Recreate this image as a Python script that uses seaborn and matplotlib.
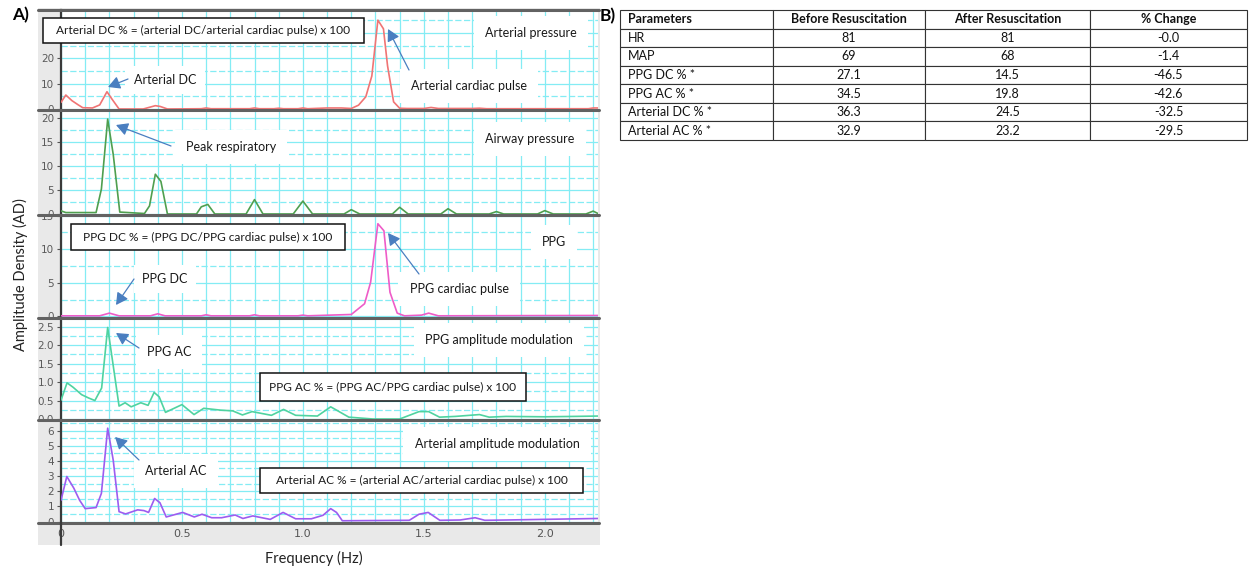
import numpy as np
import pandas as pd
import matplotlib
matplotlib.use("Agg")
import matplotlib.pyplot as plt
import seaborn as sns
from matplotlib.patches import Rectangle, FancyArrowPatch
from matplotlib.lines import Line2D
from matplotlib.transforms import Bbox, TransformedBbox

# ---------------- data ----------------
art_f = [0, 0.02, 0.045, 0.07, 0.09, 0.13, 0.16, 0.19, 0.21, 0.24, 0.34, 0.39, 0.41, 0.44,
         0.58, 0.6, 0.62, 0.78, 0.8, 0.82, 0.88, 0.9, 0.92, 0.98, 1.0, 1.02, 1.1, 1.16,
         1.2, 1.23, 1.26, 1.285, 1.31, 1.333, 1.35, 1.375, 1.40, 1.43, 1.5, 1.53, 1.56,
         1.7, 1.73, 1.76, 2.18, 2.2, 2.22]
art_v = [2.6, 5.5, 3.3, 1.7, 0.5, 0.4, 1.6, 6.8, 4.0, 0.0, 0.0, 1.3, 1.0, 0.0,
         0.1, 0.4, 0.1, 0.1, 0.4, 0.1, 0.1, 0.3, 0.1, 0.1, 0.4, 0.1, 0.4, 0.4,
         0.2, 1.5, 4.8, 13.0, 35.0, 31.6, 17.0, 2.8, 0.3, 0.2, 0.2, 0.6, 0.2,
         0.2, 0.3, 0.1, 0.1, 0.4, 0.4]

air_f = [0, 0.02, 0.145, 0.167, 0.193, 0.216, 0.243, 0.345, 0.366, 0.39, 0.413, 0.44,
         0.56, 0.58, 0.607, 0.636, 0.765, 0.80, 0.835, 0.96, 1.0, 1.04, 1.17, 1.2, 1.235,
         1.37, 1.40, 1.435, 1.57, 1.60, 1.635, 1.77, 1.80, 1.83, 1.97, 2.0, 2.035,
         2.17, 2.2, 2.22]
air_v = [0.65, 0.3, 0.3, 5.2, 19.8, 12.4, 0.4, 0.1, 1.7, 8.3, 6.8, 0.0,
         0.0, 1.5, 2.0, 0.0, 0.0, 3.0, 0.0, 0.0, 2.7, 0.0, 0.0, 0.9, 0.0,
         0.0, 1.4, 0.0, 0.0, 1.1, 0.0, 0.0, 0.5, 0.0, 0.0, 0.7, 0.0,
         0.0, 0.6, 0.1]

ppg_f = [0, 0.16, 0.2, 0.24, 0.37, 0.4, 0.43, 0.58, 0.6, 0.62, 0.78, 0.8, 0.82,
         0.98, 1.0, 1.02, 1.2, 1.255, 1.28, 1.31, 1.335, 1.36, 1.39, 1.42, 1.49,
         1.52, 1.56, 2.22]
ppg_v = [0.1, 0.1, 0.5, 0.1, 0.1, 0.4, 0.1, 0.1, 0.25, 0.1, 0.1, 0.25, 0.1,
         0.1, 0.2, 0.1, 0.3, 1.9, 5.1, 13.8, 12.75, 3.6, 0.5, 0.1, 0.2,
         0.5, 0.1, 0.15]

ppgam_f = [0, 0.025, 0.05, 0.085, 0.114, 0.14, 0.168, 0.193, 0.216, 0.24, 0.265, 0.29,
           0.33, 0.36, 0.385, 0.406, 0.432, 0.5, 0.55, 0.59, 0.66, 0.71, 0.75, 0.79,
           0.87, 0.92, 0.97, 1.06, 1.115, 1.19, 1.29, 1.40, 1.48, 1.52, 1.565, 1.63,
           1.69, 1.73, 1.77, 1.84, 2.0, 2.12, 2.22]
ppgam_v = [0.51, 0.98, 0.86, 0.66, 0.57, 0.5, 0.84, 2.48, 1.44, 0.35, 0.44, 0.33,
           0.44, 0.37, 0.72, 0.6, 0.18, 0.39, 0.12, 0.29, 0.24, 0.22, 0.11, 0.2,
           0.1, 0.26, 0.1, 0.08, 0.33, 0.05, 0.0, 0.0, 0.2, 0.2, 0.05, 0.07,
           0.1, 0.12, 0.05, 0.07, 0.06, 0.07, 0.08]

artam_f = [0, 0.024, 0.053, 0.077, 0.10, 0.145, 0.167, 0.193, 0.216, 0.24, 0.267, 0.317,
           0.343, 0.362, 0.387, 0.409, 0.435, 0.503, 0.551, 0.583, 0.623, 0.664, 0.72,
           0.752, 0.793, 0.865, 0.918, 0.97, 1.035, 1.083, 1.115, 1.139, 1.163, 1.44,
           1.48, 1.518, 1.566, 1.65, 1.712, 1.752, 1.84, 2.22]
artam_v = [1.4, 2.97, 2.2, 1.4, 0.85, 0.92, 1.86, 6.16, 4.04, 0.65, 0.5, 0.77,
           0.72, 0.6, 1.52, 1.24, 0.3, 0.6, 0.3, 0.48, 0.25, 0.25, 0.43,
           0.2, 0.37, 0.14, 0.6, 0.18, 0.18, 0.41, 0.85, 0.6, 0.05, 0.08,
           0.48, 0.6, 0.08, 0.1, 0.25, 0.08, 0.1, 0.2]

panel_names = ["Arterial pressure", "Airway pressure", "PPG",
               "PPG amplitude modulation", "Arterial amplitude modulation"]
panel_yticks = [[0, 10, 20, 30], [0, 5, 10, 15, 20], [0, 5, 10, 15],
                [0.0, 0.5, 1.0, 1.5, 2.0, 2.5], [0, 1, 2, 3, 4, 5, 6]]
# the "30" of the top panel is hidden under the formula box in the reference
panel_yticklabels = [["0", "10", "20", ""], ["0", "5", "10", "15", "20"],
                     ["0", "5", "10", "15"],
                     ["0.0", "0.5", "1.0", "1.5", "2.0", "2.5"],
                     ["0", "1", "2", "3", "4", "5", "6"]]
x_ticks = [0, 0.5, 1.0, 1.5, 2.0]
x_ticklabels = ["0", "0.5", "1.0", "1.5", "2.0"]

tbl_cols = ["Parameters", "Before Resuscitation", "After Resuscitation", "% Change"]
tbl_params = ["HR", "MAP", "PPG DC % *", "PPG AC % *", "Arterial DC % *", "Arterial AC % *"]
tbl_before = ["81", "69", "27.1", "34.5", "36.3", "32.9"]
tbl_after = ["81", "68", "14.5", "19.8", "24.5", "23.2"]
tbl_change = ["-0.0", "-1.4", "-46.5", "-42.6", "-32.5", "-29.5"]

# ---------------- layout / style ----------------
W, H = 1249, 571
sns.set_theme(style="white")
plt.rcParams['font.family'] = ['Lato', 'DejaVu Sans']

fig = plt.figure(figsize=(W / 100, H / 100), dpi=100)
fig.patch.set_facecolor("white")


def fx(x):
    return x / W


def fy(y):
    return 1 - y / H


# gray chart frame
fig.patches.append(Rectangle((fx(38), fy(545)), fx(600) - fx(38), fy(8) - fy(545),
                             transform=fig.transFigure, fc="#e9e9e9", ec="none", zorder=-10))

LEFT, RIGHT = 61, 598
bounds = [(10, 110), (110, 215), (215, 317.5), (317.5, 420), (420, 522.5)]
ylims = [(-0.4, 39), (-0.21, 21.7), (-0.15, 15.1), (-0.027, 2.75), (-0.065, 6.7)]
series = [(art_f, art_v, "#f07474"), (air_f, air_v, "#4f9f4f"), (ppg_f, ppg_v, "#ee5cc8"),
          (ppgam_f, ppgam_v, "#4fd3a0"), (artam_f, artam_v, "#9d5cf0")]
GRID = "#84ecf4"

axes = []
for i, ((top, bot), (f, v, col)) in enumerate(zip(bounds, series)):
    ax = fig.add_axes([fx(LEFT), fy(bot), fx(RIGHT) - fx(LEFT), (bot - top) / H])
    ax.set_facecolor("white")
    df = pd.DataFrame({"Frequency (Hz)": f, "AD": v})
    sns.lineplot(data=df, x="Frequency (Hz)", y="AD", ax=ax, color=col, lw=1.2,
                 errorbar=None, sort=False, zorder=3)
    ax.set_xlim(0, 2.22)
    ax.set_ylim(*ylims[i])
    ax.set_xlabel("")
    ax.set_ylabel("")
    ax.set_xticks(x_ticks)
    ax.set_xticks(np.arange(0.1, 2.22, 0.1), minor=True)
    yt = panel_yticks[i]
    ax.set_yticks(yt)
    ax.set_yticklabels(panel_yticklabels[i])
    step = yt[1] - yt[0]
    ax.set_yticks(np.arange(step / 2, ylims[i][1], step), minor=True)
    ax.grid(True, which="both", axis="x", color=GRID, lw=0.9, zorder=0)
    ax.grid(True, which="major", axis="y", color=GRID, lw=0.9, zorder=0)
    ax.grid(True, which="minor", axis="y", color=GRID, lw=0.9, ls=(0, (5, 2)), zorder=0)
    for s in ["top", "bottom", "right"]:
        ax.spines[s].set_visible(False)
    ax.spines["left"].set_color("#3a3a3a")
    ax.spines["left"].set_linewidth(1.6)
    ax.tick_params(axis="y", which="major", direction="out", length=3, width=0.8,
                   color="#555555", labelsize=7.5, labelcolor="#5a5a5a", pad=2, left=True)
    ax.tick_params(axis="y", which="minor", length=0)
    ax.tick_params(axis="x", which="both", length=0)
    for lab in ax.get_yticklabels():
        lab.set_fontfamily("DejaVu Sans")
        lab.set_clip_box(TransformedBbox(Bbox([[-0.12, 0.0], [0.0, 1.0]]), ax.transAxes))
        lab.set_clip_on(True)
    if i < 4:
        ax.set_xticklabels([])
    else:
        ax.set_xticklabels(x_ticklabels)
        ax.tick_params(axis="x", labelsize=8, labelcolor="#555555", pad=5)
        for lab in ax.get_xticklabels():
            lab.set_fontfamily("DejaVu Sans")
    axes.append(ax)

# panel separators and axis extension
for y in [10, 110, 215, 317.5, 420, 522.5]:
    fig.add_artist(Line2D([fx(38), fx(RIGHT + 1)], [fy(y), fy(y)], transform=fig.transFigure,
                          color="#626262", lw=2.2, zorder=4))
fig.add_artist(Line2D([fx(LEFT), fx(LEFT)], [fy(522), fy(545)], transform=fig.transFigure,
                      color="#3a3a3a", lw=1.6, zorder=4))

# ---------------- annotations ----------------
TXT = dict(fontsize=9, color="#1a1a1a", ha="center", va="center", zorder=6)


def label(x, y, s, pad=4):
    fig.text(fx(x), fy(y), s, bbox=dict(fc="white", ec="none", boxstyle=f"square,pad={pad/9:.2f}"),
             **TXT)


def box(x0, y0, x1, y1, s):
    fig.patches.append(Rectangle((fx(x0), fy(y1)), fx(x1) - fx(x0), fy(y0) - fy(y1),
                                 transform=fig.transFigure, fc="white", ec="#111111",
                                 lw=1.1, zorder=6))
    fig.text(fx((x0 + x1) / 2), fy((y0 + y1) / 2), s,
             **{**TXT, "fontsize": 8.6})


def arrow(x0, y0, x1, y1):
    fig.add_artist(FancyArrowPatch((fx(x0), fy(y0)), (fx(x1), fy(y1)), transform=fig.transFigure,
                                   arrowstyle="-|>,head_length=0.55,head_width=0.3",
                                   mutation_scale=13, color="#4a7ec0", lw=0.9, zorder=7,
                                   shrinkA=0, shrinkB=0))


label(531, 33, "Arterial pressure", pad=8)
label(165, 80, "Arterial DC", pad=6)
label(469, 86, "Arterial cardiac pulse", pad=8)
label(231, 147, "Peak respiratory", pad=8)
label(530, 139, "Airway pressure", pad=8)
label(554, 242, "PPG", pad=8)
label(165, 279, "PPG DC", pad=6)
label(459, 289, "PPG cardiac pulse", pad=8)
label(169, 352, "PPG AC", pad=8)
label(499, 340, "PPG amplitude modulation", pad=8)
label(497, 444, "Arterial amplitude modulation", pad=8)
label(176, 471, "Arterial AC", pad=8)

box(43, 18, 364, 43, "Arterial DC % = (arterial DC/arterial cardiac pulse) x 100")
box(71, 224, 345, 250, "PPG DC % = (PPG DC/PPG cardiac pulse) x 100")
box(260, 373, 526, 401, "PPG AC % = (PPG AC/PPG cardiac pulse) x 100")
box(260, 468, 583, 493, "Arterial AC % = (arterial AC/arterial cardiac pulse) x 100")

arrow(128, 79, 108, 87)
arrow(409, 70, 388, 29)
arrow(171, 146, 116, 125)
arrow(134, 279, 116, 305)
arrow(419, 274, 388, 233)
arrow(139, 348, 116, 333)
arrow(139, 460, 115, 437)

fig.text(fx(20), fy(275), "Amplitude Density (AD)", rotation=90, fontsize=10.5,
         color="#222222", ha="center", va="center")
fig.text(fx(314), fy(558), "Frequency (Hz)", fontsize=10.5, color="#222222",
         ha="center", va="center")
fig.text(fx(21), fy(15), "A)", fontsize=12.5, fontweight="bold", ha="center", va="center",
         color="black")
fig.text(fx(608), fy(16), "B)", fontsize=12.5, fontweight="bold", ha="center", va="center",
         color="black")

# ---------------- table ----------------
tax = fig.add_axes([fx(620), fy(140), fx(1247) - fx(620), (140 - 10) / H])
tax.axis("off")
cells = [[p, b, a, c] for p, b, a, c in zip(tbl_params, tbl_before, tbl_after, tbl_change)]
widths = np.array([773 - 620, 925 - 773, 1090 - 925, 1247 - 1090]) / 627
tbl = tax.table(cellText=cells, colLabels=tbl_cols, colWidths=list(widths),
                bbox=[0, 0, 1, 1], cellLoc="center")
tbl.auto_set_font_size(False)
tbl.set_fontsize(9)
for (r, c), cl in tbl.get_celld().items():
    cl.set_edgecolor("#333333")
    cl.set_linewidth(0.8)
    cl.get_text().set_color("#111111")
    if r == 0:
        cl.get_text().set_fontweight("bold")
    if c == 0:
        cl._loc = "left"
        cl.get_text().set_ha("left")
        cl.PAD = 0.05

fig.savefig("out.png", dpi=100)
